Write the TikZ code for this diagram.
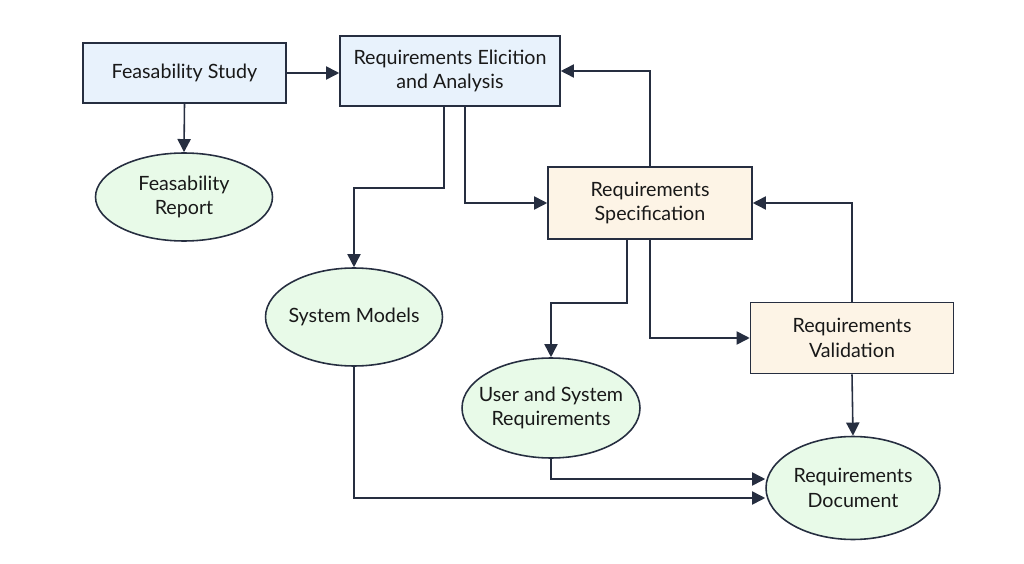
\documentclass[tikz,border=0pt]{standalone}
\usepackage{fontspec}
\setmainfont{Lato}
\usetikzlibrary{shapes,arrows.meta,positioning}

\definecolor{edgeclr}{RGB}{38,46,64}
\definecolor{fillblue}{RGB}{232,242,252}
\definecolor{fillsand}{RGB}{253,244,230}
\definecolor{fillmint}{RGB}{232,250,232}

\begin{document}
\begin{tikzpicture}[x=0.02cm,y=-0.02cm,
    every node/.style={font=\fontsize{11.2}{14}\selectfont,align=center,text=black!90},
    stage/.style={draw=edgeclr,line width=0.9pt,minimum width=4.06cm,minimum height=1.2cm},
    product/.style={ellipse,draw=edgeclr,line width=0.9pt,fill=fillmint,inner xsep=-8pt,inner ysep=0pt,minimum width=3.54cm,minimum height=1.76cm},
    arr/.style={-{Triangle[length=7.5pt,width=7.5pt]},draw=edgeclr,line width=0.9pt}]
    \useasboundingbox (0,0) rectangle (1024,564);

    % activities
    \node[stage,fill=fillblue](feas) at (184.5,73) {Feasability Study};
    \node[stage,fill=fillblue,minimum width=4.4cm,minimum height=1.4cm](elic) at (450,71) {Requirements Elicition\\and Analysis};
    \node[stage,fill=fillsand,minimum width=4.08cm,minimum height=1.44cm](spec) at (650,203) {Requirements\\Specification};
    \node[stage,fill=fillsand,minimum height=1.42cm](valid) at (852,338) {Requirements\\Validation};

    % deliverables
    \node[product](report) at (184,197) {Feasability\\Report};
    \node[product,minimum height=1.96cm](sysm) at (354,317) {System Models};
    \node[product,minimum width=3.56cm,minimum height=2cm](user) at (551,408) {User and System\\Requirements};
    \node[product,minimum width=3.48cm,minimum height=2.06cm](doc) at (853,488) {Requirements\\Document};

    \draw[arr] (feas.east) -- (feas.east -| elic.west);
    \draw[arr] (feas.south) -- (report.north);
    \draw[arr] ([xshift=-0.12cm]elic.south) -- ++(0,81) -| (sysm.north);
    \draw[arr] ([xshift=0.3cm]elic.south) |- (spec.west);
    \draw[arr] (spec.north) |- (elic.east);
    \draw[arr] ([xshift=-0.46cm]spec.south) -- ++(0,63) -| (user.north);
    \draw[arr] (spec.south) |- (valid.west);
    \draw[arr] (valid.north) |- (spec.east);
    \draw[arr] (valid.south) -- (doc.north);
    \draw[arr] (user.south) |- ([yshift=0.18cm]doc.west);
    \draw[arr] (sysm.south) |- ([yshift=-0.2cm]doc.west);
\end{tikzpicture}
\end{document}
